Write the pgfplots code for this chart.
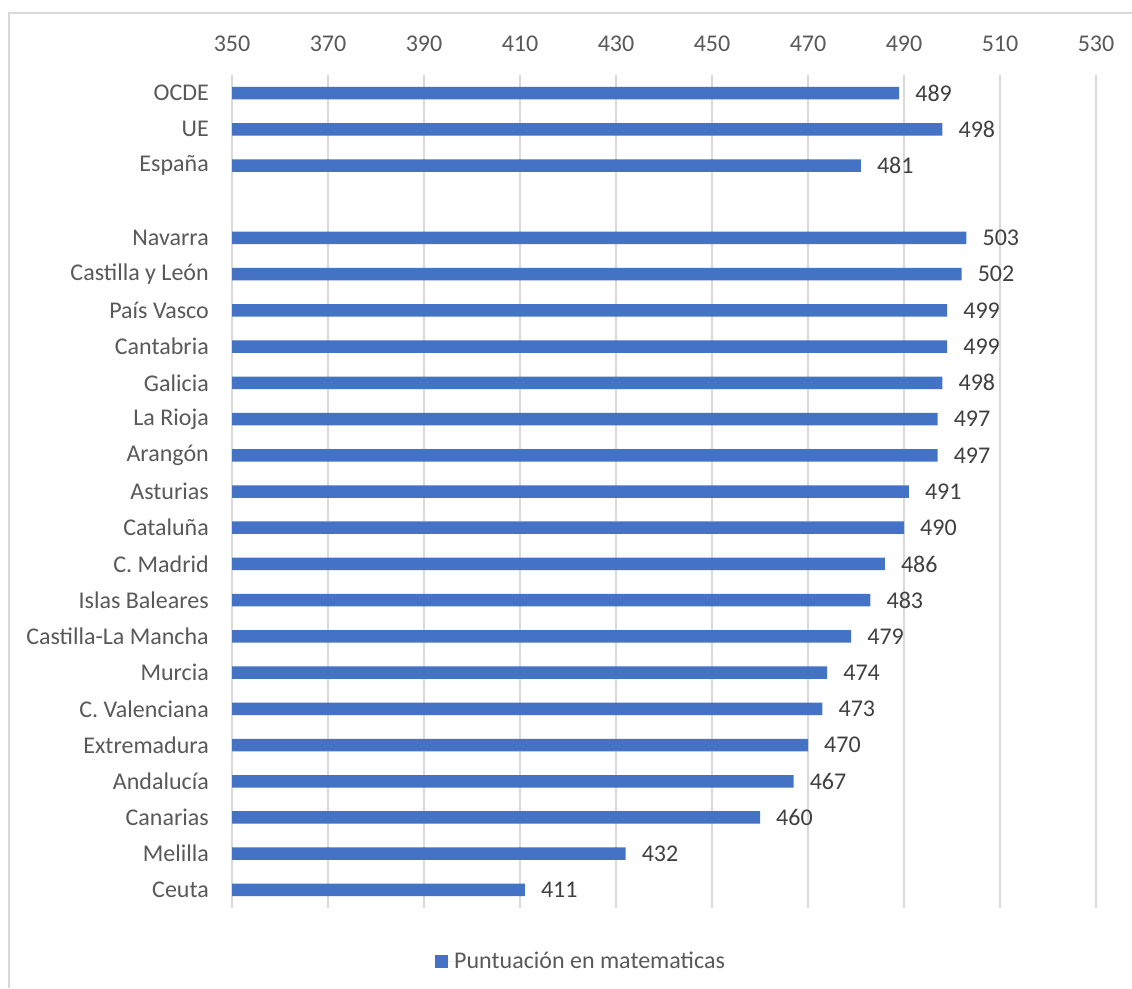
\documentclass[border=0pt]{standalone}
\usepackage{pgfplots}
\pgfplotsset{compat=1.18}
\usepackage{fontspec}
\setmainfont{Carlito}
\definecolor{barblue}{HTML}{4472C4}
\definecolor{gridgray}{HTML}{D9D9D9}
\definecolor{labgray}{HTML}{595959}
\definecolor{valgray}{HTML}{404040}
\begin{document}
\begin{tikzpicture}
\useasboundingbox[fill=white] (0pt,0pt) rectangle (1132pt,988pt);
\draw[gridgray, line width=1.2pt] (9pt,0pt) -- (9pt,975pt) -- (1140pt,975pt);
\begin{axis}[
	at={(232pt,80pt)}, anchor=south west,
	scale only axis,
	width=864pt, height=833pt,
	xbar,
	bar width=12.5pt,
	xmin=350, xmax=530,
	ymin=-0.5, ymax=22.5,
	y dir=reverse,
	axis line style={draw=none},
	xtick={350,370,...,530},
	xticklabel pos=upper,
	xmajorgrids,
	grid style={gridgray, line width=1.3pt},
	major tick length=0pt,
	ytick={0,1,2,4,5,6,7,8,9,10,11,12,13,14,15,16,17,18,19,20,21,22},
	yticklabels={OCDE,UE,España,Navarra,Castilla y León,País Vasco,Cantabria,Galicia,La Rioja,Arangón,Asturias,Cataluña,C. Madrid,Islas Baleares,Castilla-La Mancha,Murcia,C. Valenciana,Extremadura,Andalucía,Canarias,Melilla,Ceuta},
	tick label style={font=\fontsize{24}{28}\selectfont, text=labgray, inner sep=0pt},
	xticklabel style={yshift=23pt},
	yticklabel style={xshift=-23pt},
	/pgf/number format/assume math mode=true,
	/pgf/number format/1000 sep={},
	point meta=x,
	nodes near coords,
	nodes near coords style={font=\fontsize{24}{28}\selectfont, text=valgray, anchor=west, inner sep=0pt, xshift=16pt},
	legend style={at={(0.235,0)}, anchor=west, yshift=-53pt, draw=none, fill=none,
		font=\fontsize{24}{28}\selectfont, text=labgray, inner sep=0pt,
		nodes={inner sep=0pt}},
	legend image code/.code={\fill[barblue] (0pt,-6.5pt) rectangle (13pt,6.5pt); \path (0pt,0pt) -- (19pt,0pt);},
]
\addplot[fill=barblue, draw=none] coordinates {
	(489,0) (498,1) (481,2)
	(503,4) (502,5) (499,6) (499,7) (498,8) (497,9) (497,10)
	(491,11) (490,12) (486,13) (483,14) (479,15) (474,16) (473,17)
	(470,18) (467,19) (460,20) (432,21) (411,22)
};
\addlegendentry{Puntuación en matematicas}
\end{axis}
\end{tikzpicture}
\end{document}
